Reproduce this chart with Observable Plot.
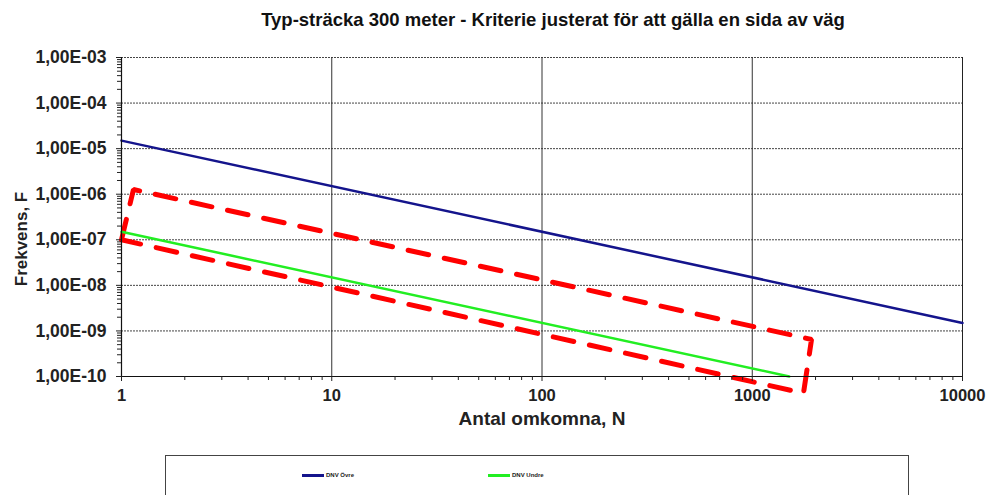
<!DOCTYPE html>
<html>
<head>
<meta charset="utf-8">
<script src="https://cdn.jsdelivr.net/npm/d3@7"></script>
<script src="https://cdn.jsdelivr.net/npm/@observablehq/plot@0.6"></script>
<style>
  html, body { margin: 0; padding: 0; background: #fff; }
  #wrap { position: relative; width: 994px; height: 495px; overflow: hidden; font-family: "Liberation Sans", Arial, sans-serif; }
  #title { position: absolute; left: 0; width: 1106px; top: 9px; text-align: center; font-weight: bold; font-size: 18.5px; color: #111; }
  #legend { position: absolute; left: 165px; top: 455px; width: 744px; height: 60px; border: 1px solid #444; box-sizing: border-box; }
  .item { position: absolute; top: 16px; display: flex; align-items: center; font-size: 6px; font-weight: bold; color: #222; }
  .swatch { display: inline-block; width: 22px; height: 3px; margin-right: 2px; }
  #chart { position: absolute; left: 0; top: 0; }
</style>
</head>
<body>
<div id="wrap">
  <div id="chart"></div>
  <div id="title"></div>
  <div id="legend"></div>
</div>
<script>
// ---- data ----
const titleText = "Typ-sträcka 300 meter - Kriterie justerat för att gälla en sida av väg";
const xLabel = "Antal omkomna, N";
const yLabel = "Frekvens, F";
const xTicks = [1, 10, 100, 1000, 10000];
const yTicks = [1e-10, 1e-9, 1e-8, 1e-7, 1e-6, 1e-5, 1e-4, 1e-3];
const seriesNames = ["DNV Övre", "DNV Undre"];
const seriesColors = ["#14148c", "#22ee22"];
const ovreN = [1, 10000];
const ovreF = [1.5e-5, 1.5e-9];
const undreN = [1, 1500];
const undreF = [1.5e-7, 1e-10];
const regionN = [1, 1.14, 1914, 1753, 1];
const regionF = [1.0e-7, 1.27e-6, 6.5e-10, 4.3e-11, 1.0e-7];

// minor ticks (log 2..9 per decade)
const minorX = [];
for (let i = 0; i < xTicks.length - 1; i++) for (let k = 2; k <= 9; k++) minorX.push(xTicks[i] * k);
const minorY = [];
for (let i = 0; i < yTicks.length - 1; i++) for (let k = 2; k <= 9; k++) minorY.push(yTicks[i] * k);

const ovre = ovreN.map((n, i) => ({N: n, F: ovreF[i]}));
const undre = undreN.map((n, i) => ({N: n, F: undreF[i]}));
const region = regionN.map((n, i) => ({N: n, F: regionF[i]}));

const fmtY = d => {
  const e = Math.round(Math.log10(d));
  return "1,00E" + (e < 0 ? "-" : "+") + String(Math.abs(e)).padStart(2, "0");
};

const chart = Plot.plot({
  width: 994,
  height: 495,
  marginLeft: 121,
  marginRight: 32,
  marginTop: 57,
  marginBottom: 119,
  style: {fontFamily: "Liberation Sans, Arial, sans-serif", fontWeight: "bold", fontSize: "16px", color: "#222", background: "transparent"},
  x: {type: "log", domain: [1, 10000]},
  y: {type: "log", domain: [1e-10, 1e-3]},
  marks: [
    Plot.ruleY(yTicks.slice(1), {stroke: "#444", strokeWidth: 1, strokeDasharray: "2,1"}),
    Plot.ruleX(xTicks.slice(1, -1), {stroke: "#333", strokeWidth: 1}),
    Plot.ruleX([10000], {stroke: "#222", strokeWidth: 1}),
    Plot.line(region, {x: "N", y: "F", stroke: "#ff0000", strokeWidth: 5, strokeDasharray: "21,16", strokeLinejoin: "miter"}),
    Plot.line(ovre, {x: "N", y: "F", stroke: seriesColors[0], strokeWidth: 2.5}),
    Plot.line(undre, {x: "N", y: "F", stroke: seriesColors[1], strokeWidth: 2.5}),
    Plot.ruleX([1], {stroke: "#111", strokeWidth: 1.2}),
    Plot.ruleY([1e-10], {stroke: "#111", strokeWidth: 1.2}),
    Plot.axisY(minorY, {tickFormat: () => "", tickSize: 4, label: null, stroke: "#222"}),
    Plot.axisY(yTicks, {tickFormat: fmtY, tickSize: 5, tickPadding: 10, label: null, stroke: "#222", fontSize: 17.5}),
    Plot.axisX(minorX, {tickFormat: () => "", tickSize: 4, label: null, stroke: "#222"}),
    Plot.axisX(xTicks, {tickFormat: d => String(d), tickSize: 5, tickPadding: 8, label: null, stroke: "#222", fontSize: 16.5}),
    Plot.text([xLabel], {frameAnchor: "bottom", dy: 48, text: d => d, fontSize: 19, fontWeight: "bold"}),
    Plot.text([yLabel], {frameAnchor: "left", textAnchor: "middle", dx: -100, dy: 22, rotate: -90, text: d => d, fontSize: 17, fontWeight: "bold"})
  ]
});
document.getElementById("chart").appendChild(chart);
document.getElementById("title").textContent = titleText;

const legend = document.getElementById("legend");
const legendX = [136, 322];
seriesNames.forEach((name, i) => {
  const it = document.createElement("div");
  it.className = "item";
  it.style.left = legendX[i] + "px";
  const sw = document.createElement("span");
  sw.className = "swatch";
  sw.style.background = seriesColors[i];
  it.appendChild(sw);
  const t = document.createElement("span");
  t.textContent = name;
  it.appendChild(t);
  legend.appendChild(it);
});
</script>
</body>
</html>
